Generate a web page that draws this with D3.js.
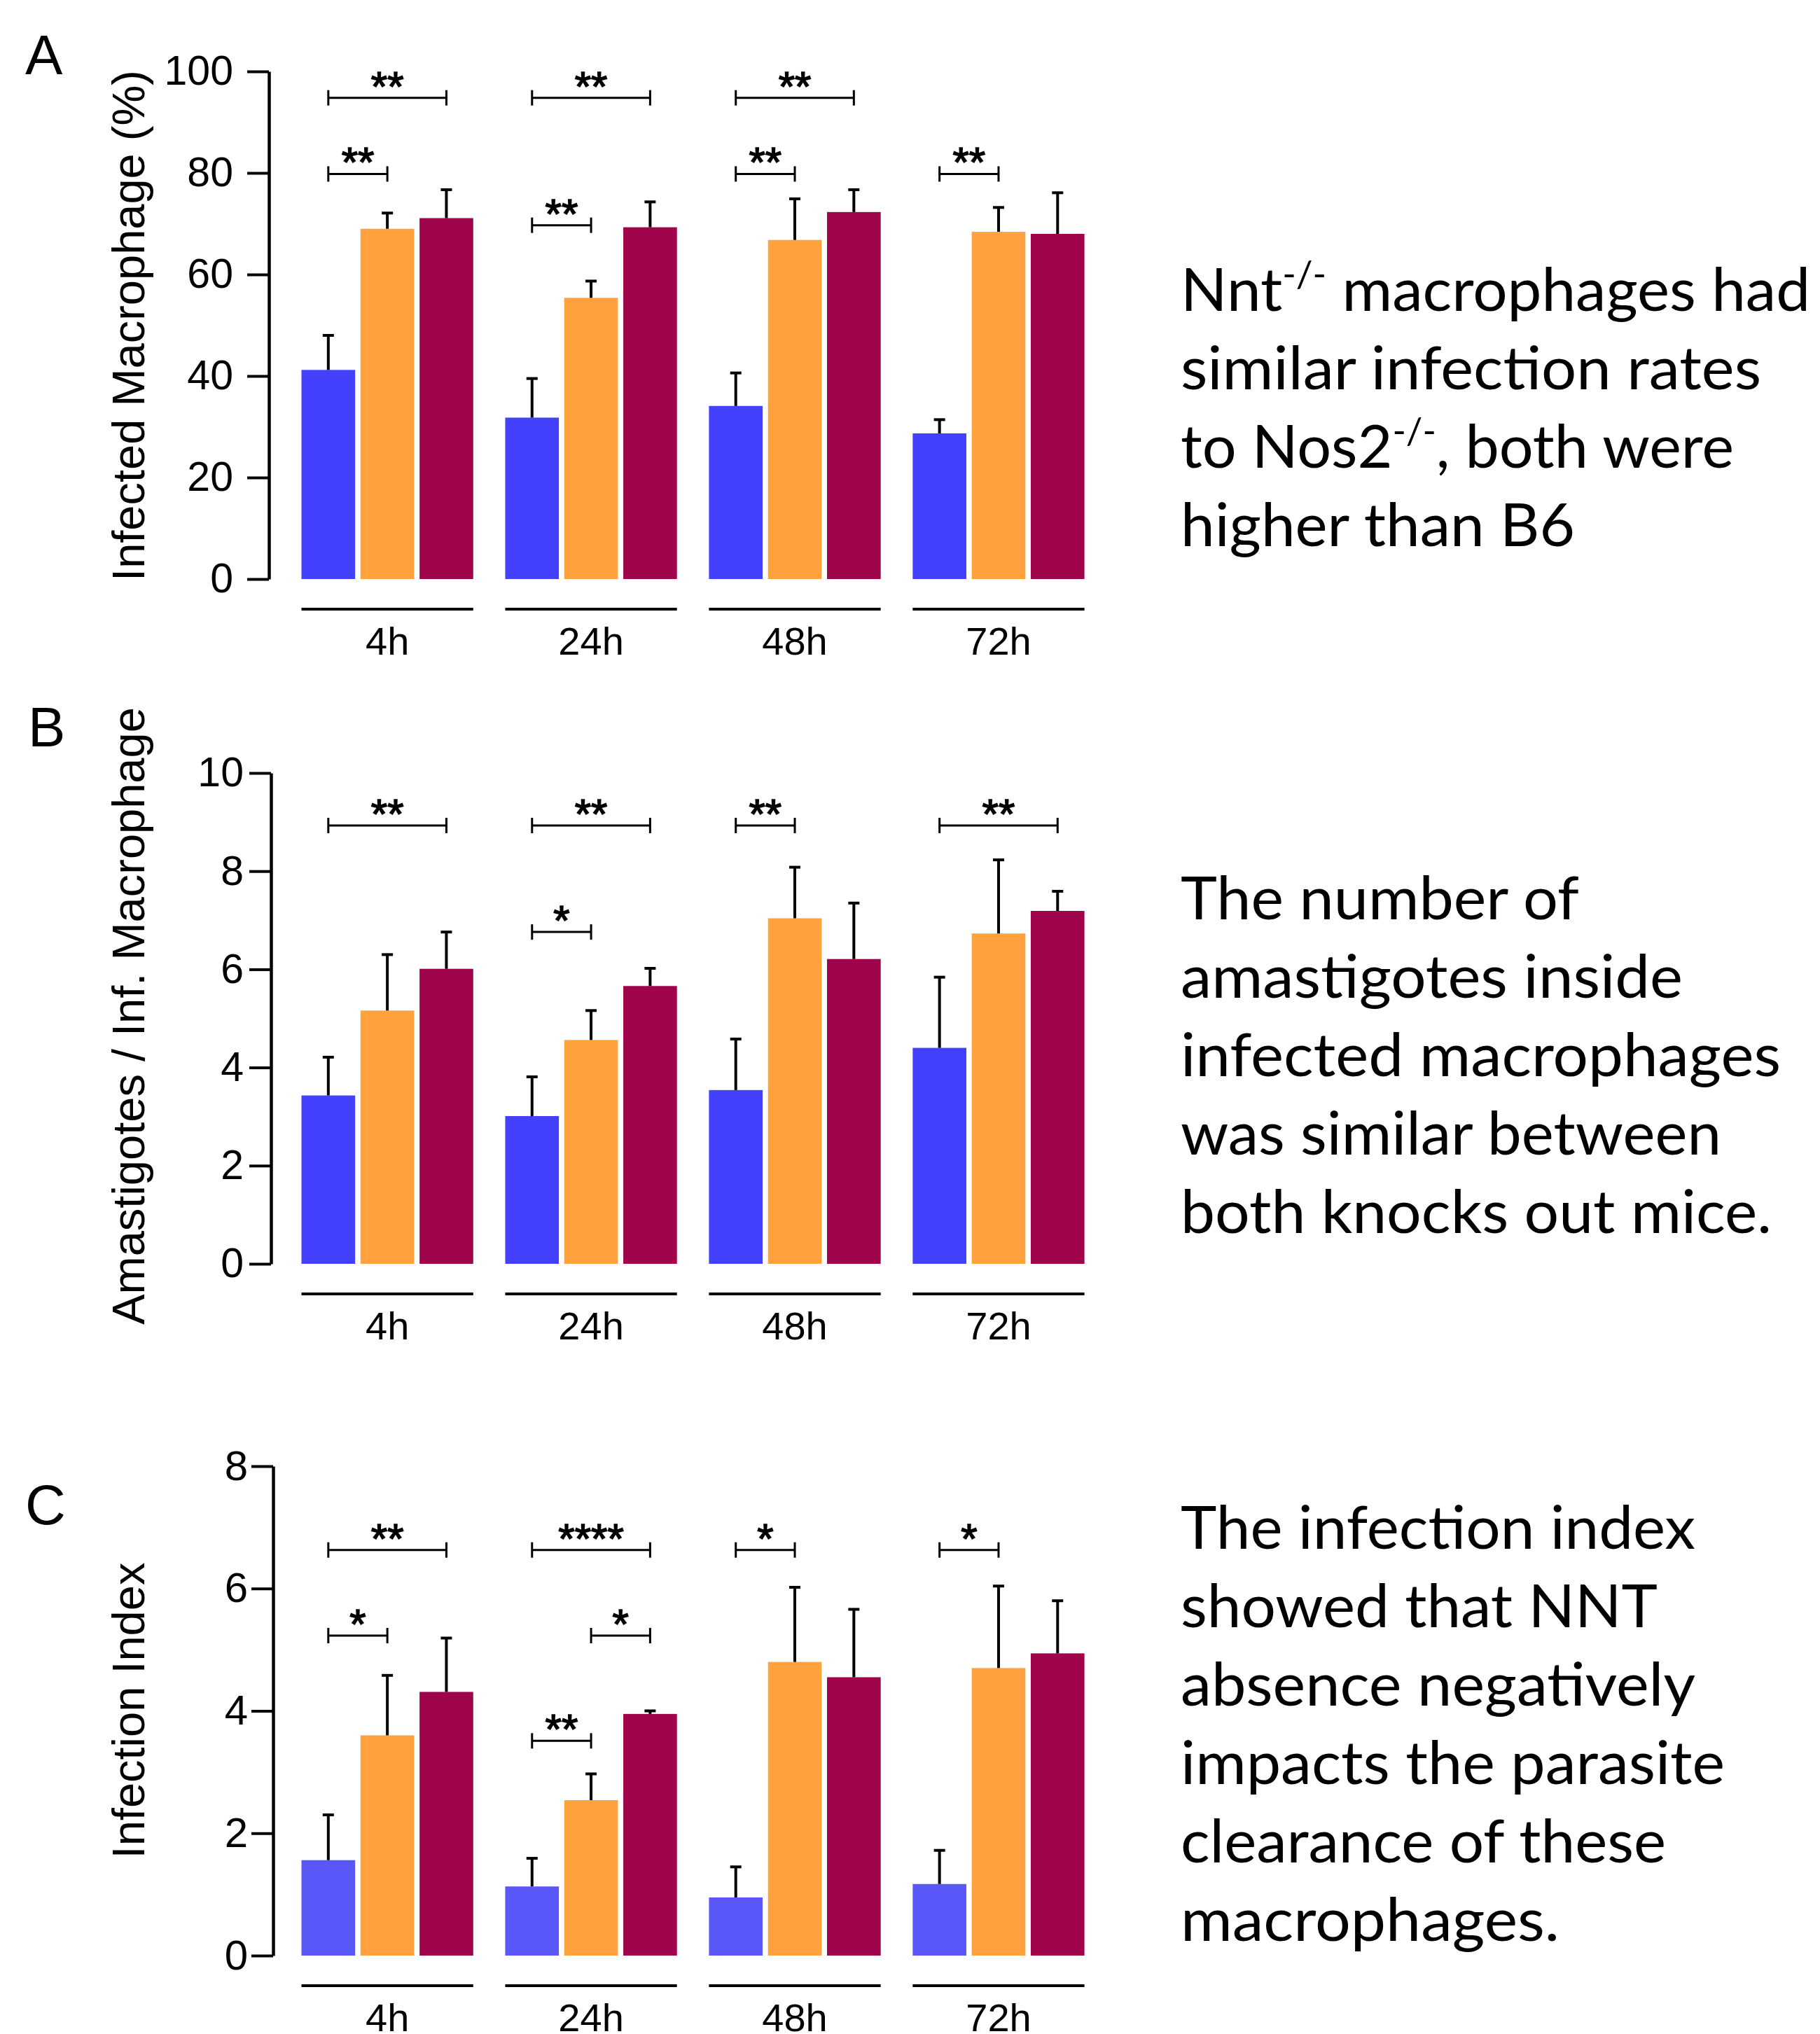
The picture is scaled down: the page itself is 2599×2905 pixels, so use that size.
<!DOCTYPE html>
<html><head><meta charset="utf-8">
<script src="https://cdn.jsdelivr.net/npm/d3@7"></script>
<style>html,body{margin:0;padding:0;background:#fff;} svg{display:block}</style>
</head><body>
<svg id="chart" width="2599" height="2905"></svg>
<script>
// ---------- DATA ----------
const groups = ["4h", "24h", "48h", "72h"];
const series = ["B6", "Nos2-/-", "Nnt-/-"];

// Panel A: Infected Macrophage (%)
const infB6 = [41.2, 31.8, 34.1, 28.7];
const infB6Err = [6.8, 7.7, 6.5, 2.7];
const infNos2 = [69.0, 55.4, 66.8, 68.4];
const infNos2Err = [3.1, 3.3, 8.1, 4.8];
const infNnt = [71.1, 69.3, 72.3, 68.0];
const infNntErr = [5.6, 5.0, 4.4, 8.1];
const ticksA = [0, 20, 40, 60, 80, 100];
// [group, fromSeries, toSeries, yValue, label]
const sigA = [["4h",0,2,94.8,"**"],["4h",0,1,79.8,"**"],["24h",0,2,94.8,"**"],["24h",0,1,69.7,"**"],
              ["48h",0,2,94.8,"**"],["48h",0,1,79.8,"**"],["72h",0,1,79.8,"**"]];

// Panel B: Amastigotes / Inf. Macrophage
const amaB6 = [3.43, 3.01, 3.54, 4.40];
const amaB6Err = [0.78, 0.80, 1.04, 1.44];
const amaNos2 = [5.16, 4.56, 7.04, 6.73];
const amaNos2Err = [1.14, 0.60, 1.04, 1.50];
const amaNnt = [6.01, 5.66, 6.21, 7.19];
const amaNntErr = [0.75, 0.36, 1.14, 0.40];
const ticksB = [0, 2, 4, 6, 8, 10];
const sigB = [["4h",0,2,8.93,"**"],["24h",0,2,8.93,"**"],["24h",0,1,6.76,"*"],
              ["48h",0,1,8.93,"**"],["72h",0,2,8.93,"**"]];

// Panel C: Infection Index
const idxB6 = [1.56, 1.13, 0.95, 1.17];
const idxB6Err = [0.74, 0.46, 0.50, 0.55];
const idxNos2 = [3.60, 2.54, 4.80, 4.70];
const idxNos2Err = [0.98, 0.43, 1.22, 1.34];
const idxNnt = [4.31, 3.95, 4.55, 4.94];
const idxNntErr = [0.88, 0.05, 1.11, 0.86];
const ticksC = [0, 2, 4, 6, 8];
const sigC = [["4h",0,2,6.63,"**"],["4h",0,1,5.23,"*"],["24h",0,2,6.63,"****"],["24h",1,2,5.23,"*"],
              ["24h",0,1,3.51,"**"],["48h",0,1,6.63,"*"],["72h",0,1,6.63,"*"]];

const textA = [["Nnt", "-/-", " macrophages had"], ["similar infection rates"], ["to Nos2", "-/-", ", both were"], ["higher than B6"]];
const textB = [["The number of"], ["amastigotes inside"], ["infected macrophages"], ["was similar between"], ["both knocks out mice."]];
const textC = [["The infection index"], ["showed that NNT"], ["absence negatively"], ["impacts the parasite"], ["clearance of these"], ["macrophages."]];

// ---------- DRAW ----------
const svg = d3.select("#chart");
svg.append("rect").attr("width", 2599).attr("height", 2905).attr("fill", "#fff");
const AR = "'Liberation Sans', Arial, Helvetica, sans-serif";

const x = d3.scaleBand().domain(groups).range([430.5, 1548.6]).paddingInner(0.157).paddingOuter(0);
const xi = d3.scaleBand().domain(series).range([0, x.bandwidth()]).paddingInner(0.0909).paddingOuter(0);
const cx = (g, s) => x(g) + xi(series[s]) + xi.bandwidth() / 2;

const panels = [
  { letter: "A", lx: 36, ly: 106, label: "Infected Macrophage (%)", labC: 465,
    max: 100, y0: 827, y1: 102, axisX: 384, ticks: ticksA, pad: 20, tickFont: 59,
    means: [infB6, infNos2, infNnt], errs: [infB6Err, infNos2Err, infNntErr],
    colors: ["#4340FE", "#FFA23D", "#A0044B"], sig: sigA, ul: 870, lab: 935,
    text: textA, tBase: 444, tLen: [893, 823, 784, 557] },
  { letter: "B", lx: 40, ly: 1066, label: "Amastigotes / Inf. Macrophage", labC: 1451,
    max: 10, y0: 1805, y1: 1104, axisX: 387, ticks: ticksB, pad: 8, tickFont: 59,
    means: [amaB6, amaNos2, amaNnt], errs: [amaB6Err, amaNos2Err, amaNntErr],
    colors: ["#4340FE", "#FFA23D", "#A0044B"], sig: sigB, ul: 1848, lab: 1913,
    text: textB, tBase: 1313, tLen: [563, 711, 851, 766, 838] },
  { letter: "C", lx: 36, ly: 2177, label: "Infection Index", labC: 2443,
    max: 8, y0: 2793, y1: 2094, axisX: 390, ticks: ticksC, pad: 5, tickFont: 60,
    means: [idxB6, idxNos2, idxNnt], errs: [idxB6Err, idxNos2Err, idxNntErr],
    colors: ["#5A57F9", "#FFA23D", "#A0044B"], sig: sigC, ul: 2836, lab: 2901,
    text: textC, tBase: 2212, tLen: [729, 675, 729, 771, 687, 535] }
];

panels.forEach(p => {
  const y = d3.scaleLinear().domain([0, p.max]).range([p.y0, p.y1]);
  const g = svg.append("g");

  // panel letter
  g.append("text").attr("x", p.lx).attr("y", p.ly).attr("font-family", AR)
    .attr("font-size", 80).attr("fill", "#000").text(p.letter);

  // y label
  g.append("text").attr("transform", `translate(206,${p.labC}) rotate(-90)`)
    .attr("text-anchor", "middle").attr("font-family", AR).attr("font-size", 65)
    .attr("fill", "#000").text(p.label);

  // axis
  const ax = g.append("g").attr("transform", `translate(${p.axisX},0)`)
    .call(d3.axisLeft(y).tickValues(p.ticks).tickSize(31).tickSizeOuter(0)
      .tickPadding(p.pad).tickFormat(d3.format("d")));
  ax.select(".domain").attr("stroke", "#000").attr("stroke-width", 4.5);
  ax.selectAll(".tick line").attr("stroke", "#000").attr("stroke-width", 4);
  ax.selectAll(".tick text").attr("font-family", AR).attr("font-size", p.tickFont).attr("fill", "#000");

  // bars
  const data = [];
  p.means.forEach((arr, si) => arr.forEach((v, gi) => data.push({ g: groups[gi], s: si, v, e: p.errs[si][gi] })));
  g.selectAll("rect.bar").data(data).enter().append("rect").attr("class", "bar")
    .attr("x", d => x(d.g) + xi(series[d.s])).attr("width", xi.bandwidth())
    .attr("y", d => y(d.v)).attr("height", d => y(0) - y(d.v))
    .attr("fill", d => p.colors[d.s]);

  // error bars (upper)
  const eb = g.selectAll("g.err").data(data).enter().append("g").attr("class", "err")
    .attr("stroke", "#000").attr("stroke-width", 4);
  eb.append("line").attr("x1", d => cx(d.g, d.s)).attr("x2", d => cx(d.g, d.s))
    .attr("y1", d => y(d.v)).attr("y2", d => y(d.v + d.e));
  eb.append("line").attr("x1", d => cx(d.g, d.s) - 8).attr("x2", d => cx(d.g, d.s) + 8)
    .attr("y1", d => y(d.v + d.e)).attr("y2", d => y(d.v + d.e));

  // significance brackets
  const sg = g.selectAll("g.sig").data(p.sig).enter().append("g").attr("class", "sig");
  sg.append("line").attr("stroke", "#000").attr("stroke-width", 3)
    .attr("x1", d => cx(d[0], d[1])).attr("x2", d => cx(d[0], d[2]))
    .attr("y1", d => y(d[3])).attr("y2", d => y(d[3]));
  [1, 2].forEach(k => sg.append("line").attr("stroke", "#000").attr("stroke-width", 3)
    .attr("x1", d => cx(d[0], d[k])).attr("x2", d => cx(d[0], d[k]))
    .attr("y1", d => y(d[3]) - 11).attr("y2", d => y(d[3]) + 11));
  sg.append("text").attr("text-anchor", "middle").attr("font-family", AR).attr("font-size", 60)
    .attr("x", d => (cx(d[0], d[1]) + cx(d[0], d[2])) / 2).attr("y", d => y(d[3]) + 4)
    .attr("fill", "#000").attr("stroke", "#000").attr("stroke-width", 1.6).text(d => d[4]);

  // group underlines + labels
  g.selectAll("line.ul").data(groups).enter().append("line").attr("class", "ul")
    .attr("x1", d => x(d)).attr("x2", d => x(d) + x.bandwidth())
    .attr("y1", p.ul).attr("y2", p.ul).attr("stroke", "#000").attr("stroke-width", 4);
  g.selectAll("text.gl").data(groups).enter().append("text").attr("class", "gl")
    .attr("x", d => x(d) + x.bandwidth() / 2).attr("y", p.lab).attr("text-anchor", "middle")
    .attr("font-family", AR).attr("font-size", 56).attr("fill", "#000").text(d => d);

  // description text
  p.text.forEach((parts, li) => {
    const t = g.append("text").attr("x", 1686).attr("y", p.tBase + li * 112)
      .attr("font-family", "Lato, 'Open Sans', sans-serif").attr("font-size", 86).attr("fill", "#000")
      .attr("textLength", p.tLen[li] + 6).attr("lengthAdjust", "spacingAndGlyphs");
    if (parts.length === 1) { t.text(parts[0]); }
    else {
      t.append("tspan").text(parts[0]);
      t.append("tspan").attr("font-size", 52).attr("dy", -34).text(parts[1]);
      t.append("tspan").attr("dy", 34).text(parts[2]);
    }
  });
});
</script>
</body></html>
